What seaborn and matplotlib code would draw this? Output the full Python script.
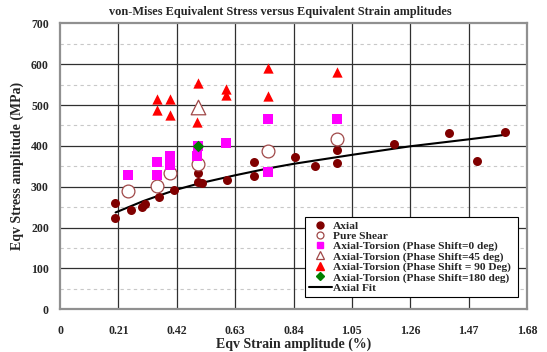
import numpy as np
import pandas as pd
import matplotlib
matplotlib.use("Agg")
import matplotlib.pyplot as plt
from matplotlib.lines import Line2D
import seaborn as sns

# ---- data ----
axial_x = [0.197, 0.199, 0.256, 0.294, 0.306, 0.357, 0.410, 0.496, 0.496, 0.510,
           0.602, 0.697, 0.697, 0.847, 0.918, 0.997, 0.997, 1.200, 1.398, 1.500, 1.600]
axial_y = [260, 223, 243, 251, 258, 274, 292, 333, 311, 308,
           316, 360, 326, 372, 350, 391, 357, 404, 431, 363, 433]

shear_x = [0.245, 0.349, 0.395, 0.498, 0.748, 0.997]
shear_y = [289, 303, 334, 356, 387, 418]

ps0_x = [0.244, 0.348, 0.348, 0.396, 0.396, 0.494, 0.497, 0.597, 0.747, 0.748, 0.997]
ps0_y = [329, 329, 360, 352, 376, 374, 400, 408, 335, 466, 466]

ps45_x = [0.498]
ps45_y = [494]

ps90_x = [0.349, 0.349, 0.397, 0.397, 0.498, 0.494, 0.598, 0.598, 0.750, 0.747, 0.998]
ps90_y = [514, 488, 514, 476, 555, 458, 538, 525, 590, 521, 582]

ps180_x = [0.497]
ps180_y = [400]

fit_x = [0.20, 0.25, 0.30, 0.35, 0.42, 0.50, 0.63, 0.75, 0.84, 1.05, 1.26, 1.47, 1.60]
fit_y = [237, 251, 265, 277, 293, 308, 328, 345, 356, 378, 399, 416, 427]

x_ticks = [0, 0.21, 0.42, 0.63, 0.84, 1.05, 1.26, 1.47, 1.68]
x_tick_labels = ["0", "0.21", "0.42", "0.63", "0.84", "1.05", "1.26", "1.47", "1.68"]
y_ticks = [0, 100, 200, 300, 400, 500, 600, 700]

labels = ["Axial", "Pure Shear", "Axial-Torsion (Phase Shift=0 deg)",
          "Axial-Torsion (Phase Shift=45 deg)", "Axial-Torsion (Phase Shift = 90 Deg)",
          "Axial-Torsion (Phase Shift=180 deg)", "Axial Fit"]

# ---- style ----
sns.set_style("white")
plt.rcParams["font.family"] = ["Liberation Serif", "DejaVu Serif"]
plt.rcParams["font.weight"] = "bold"

fig = plt.figure(figsize=(5.47, 3.52), dpi=100)
ax = fig.add_axes([60 / 547, 1 - 309.3 / 352, 467 / 547, 286 / 352])

maroon = "#800000"
brown = "#a04848"

# grid
for yv in np.arange(50, 700, 100):
    ax.axhline(yv, color="#c8c8c8", lw=0.8, ls=(0, (3, 3)), zorder=0)
for yv in y_ticks[1:-1]:
    ax.axhline(yv, color="#303030", lw=0.9, zorder=0)
for xv in x_ticks[1:-1]:
    ax.axvline(xv, color="#303030", lw=0.9, zorder=0)

sns.lineplot(x=fit_x, y=fit_y, ax=ax, color="black", lw=1.5, sort=False, zorder=2)

sns.scatterplot(x=axial_x, y=axial_y, ax=ax, marker="o", s=42, color=maroon,
                edgecolor=maroon, linewidth=0, zorder=3)
sns.scatterplot(x=shear_x, y=shear_y, ax=ax, marker="o", s=85, facecolor="white",
                edgecolor=brown, linewidth=0.9, zorder=3)
sns.scatterplot(x=ps0_x, y=ps0_y, ax=ax, marker="s", s=45, color="#ff00ff",
                edgecolor="#ff00ff", linewidth=0, zorder=3)
sns.scatterplot(x=ps90_x, y=ps90_y, ax=ax, marker="^", s=55, color="#ff0000",
                edgecolor="#ff0000", linewidth=0, zorder=3)
sns.scatterplot(x=ps45_x, y=ps45_y, ax=ax, marker="^", s=110, facecolor="white",
                edgecolor=brown, linewidth=0.9, zorder=3)
sns.scatterplot(x=ps180_x, y=ps180_y, ax=ax, marker="D", s=35, color="#008000",
                edgecolor="#008000", linewidth=0, zorder=4)

ax.set_xlim(0, 1.68)
ax.set_ylim(0, 700)
ax.set_xticks(x_ticks)
ax.set_xticklabels(x_tick_labels)
ax.set_yticks(y_ticks)
ax.tick_params(axis="both", labelsize=8.5, direction="out", length=5, width=0.9,
               color="#606060")
ax.tick_params(axis="y", pad=3)
ax.tick_params(axis="x", pad=6)
for lab in ax.get_xticklabels() + ax.get_yticklabels():
    lab.set_fontweight("bold")

for sp in ax.spines.values():
    sp.set_color("#909090")
    sp.set_linewidth(1.6)

ax.set_xlabel("Eqv Strain amplitude (%)", fontsize=10, fontweight="bold", labelpad=1)
ax.set_ylabel("Eqv Stress amplitude (MPa)", fontsize=10, fontweight="bold", labelpad=5)
fig.text(280 / 547, 1 - 12 / 352, "von-Mises Equivalent Stress versus Equivalent Strain amplitudes",
         ha="center", va="center", fontsize=8.8, fontweight="bold")

handles = [
    Line2D([], [], ls="none", marker="o", ms=5, color=maroon, mec=maroon),
    Line2D([], [], ls="none", marker="o", ms=5, mfc="white", mec=brown, mew=0.9),
    Line2D([], [], ls="none", marker="s", ms=5, color="#ff00ff"),
    Line2D([], [], ls="none", marker="^", ms=6, mfc="white", mec=brown, mew=0.9),
    Line2D([], [], ls="none", marker="^", ms=6, color="#ff0000"),
    Line2D([], [], ls="none", marker="D", ms=4.5, color="#008000"),
    Line2D([], [], color="black", lw=1.5),
]
leg = ax.legend(handles, labels, loc="lower left",
                bbox_to_anchor=((305 - 60) / 467, (309.3 - 296.7) / 286,
                                (517.5 - 305) / 467, (296.7 - 213.3) / 286),
                mode="expand", fontsize=8.2, frameon=True, fancybox=False,
                edgecolor="black", framealpha=1, borderpad=0.35, labelspacing=0.02,
                handlelength=2.0, handletextpad=0.1, borderaxespad=0)
leg.get_frame().set_linewidth(0.8)
for t in leg.get_texts():
    t.set_fontweight("bold")

fig.savefig("out.png", dpi=100)
